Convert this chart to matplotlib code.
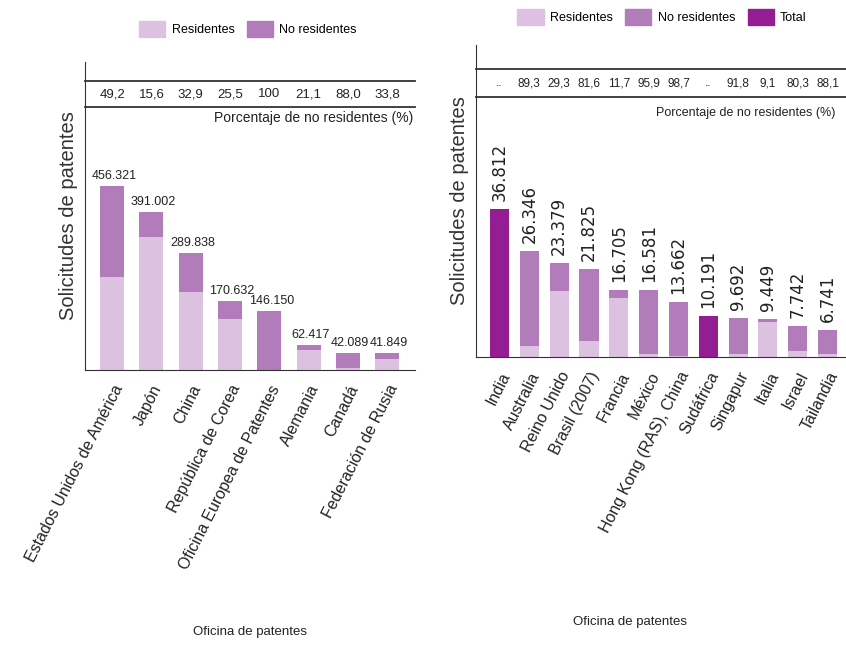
import numpy as np
import matplotlib
matplotlib.use('Agg')
import matplotlib.pyplot as plt
from matplotlib.patches import Patch

plt.rcParams['font.family'] = ['Liberation Sans', 'DejaVu Sans']

# Left chart: top 8 offices
left_offices = ['Estados Unidos de América', 'Japón', 'China', 'República de Corea',
                'Oficina Europea de Patentes', 'Alemania', 'Canadá', 'Federación de Rusia']
left_total = [456321, 391002, 289838, 170632, 146150, 62417, 42089, 41849]
left_resid = [231800, 330000, 194500, 127100, 0, 49200, 5050, 27700]
left_pct = ['49,2', '15,6', '32,9', '25,5', '100', '21,1', '88,0', '33,8']
left_labels = ['456.321', '391.002', '289.838', '170.632', '146.150', '62.417', '42.089', '41.849']

# Right chart: other offices
right_offices = ['India', 'Australia', 'Reino Unido', 'Brasil (2007)', 'Francia', 'México',
                 'Hong Kong (RAS), China', 'Sudáfrica', 'Singapur', 'Italia', 'Israel', 'Tailandia']
right_total = [36812, 26346, 23379, 21825, 16705, 16581, 13662, 10191, 9692, 9449, 7742, 6741]
right_resid = [0, 2820, 16530, 4020, 14750, 680, 180, 0, 800, 8590, 1520, 800]
right_only_total = [True, False, False, False, False, False, False, True, False, False, False, False]
right_pct = ['..', '89,3', '29,3', '81,6', '11,7', '95,9', '98,7', '..', '91,8', '9,1', '80,3', '88,1']
right_labels = ['36.812', '26.346', '23.379', '21.825', '16.705', '16.581', '13.662', '10.191',
                '9.692', '9.449', '7.742', '6.741']

c_res = '#dcc2e0'
c_non = '#b27cba'
c_tot = '#951d94'
c_txt = '#222222'

W, H = 846, 649
fig = plt.figure(figsize=(W / 100, H / 100), dpi=100)


def box(x0, y0, x1, y1):
    return [x0 / W, 1 - y1 / H, (x1 - x0) / W, (y1 - y0) / H]


def style(ax):
    for s in ['top', 'right']:
        ax.spines[s].set_visible(False)
    ax.spines['left'].set_color('#333333')
    ax.spines['bottom'].set_color('#333333')
    ax.set_yticks([])
    ax.tick_params(axis='x', length=0, pad=9, labelcolor=c_txt)


# ---- left
ax1 = fig.add_axes(box(85, 62, 415, 370))
x1 = np.arange(len(left_offices))
non1 = [t - r for t, r in zip(left_total, left_resid)]
ax1.bar(x1, left_resid, width=0.61, color=c_res)
ax1.bar(x1, non1, bottom=left_resid, width=0.61, color=c_non)
ax1.set_xlim(-0.69, 7.71)
ax1.set_ylim(0, 764000)
for xi, t, lab in zip(x1, left_total, left_labels):
    ax1.text(xi + 0.05, t + 10000, lab, ha='center', va='bottom', fontsize=9, color=c_txt)
style(ax1)
ax1.set_xticks(x1)
ax1.set_xticklabels(left_offices, rotation=63, ha='right', rotation_mode='anchor', fontsize=11.5)
for yy in [0.938, 0.854]:
    ax1.plot([0, 1], [yy, yy], color='#333333', lw=1.3, transform=ax1.transAxes, clip_on=False)
for xi, p in zip(x1, left_pct):
    ax1.text(xi, 0.896, p, transform=ax1.get_xaxis_transform(), ha='center', va='center',
             fontsize=9.5, color=c_txt)
ax1.text(0.995, 0.818, 'Porcentaje de no residentes (%)', transform=ax1.transAxes,
         ha='right', va='center', fontsize=10, color=c_txt)
ax1.set_ylabel('Solicitudes de patentes', fontsize=14.5, labelpad=5, color='#333333')
fig.text(250 / W, 1 - 632 / H, 'Oficina de patentes', ha='center', va='center', fontsize=9.5, color=c_txt)
fig.legend(handles=[Patch(color=c_res, label='Residentes'), Patch(color=c_non, label='No residentes')],
           loc='center', bbox_to_anchor=(248 / W, 1 - 29 / H), ncol=2, frameon=False,
           fontsize=9, handlelength=2.1, handleheight=1.5, columnspacing=1.0, handletextpad=0.5)

# ---- right
ax2 = fig.add_axes(box(476, 45, 846, 357))
x2 = np.arange(len(right_offices))
for xi, t, r, tot in zip(x2, right_total, right_resid, right_only_total):
    if tot:
        ax2.bar(xi, t, width=0.64, color=c_tot)
    else:
        ax2.bar(xi, r, width=0.64, color=c_res)
        ax2.bar(xi, t - r, bottom=r, width=0.64, color=c_non)
ax2.set_xlim(-0.79, 11.62)
ax2.set_ylim(0, 77600)
for xi, t, lab in zip(x2, right_total, right_labels):
    ax2.text(xi, t + 2000, lab, ha='center', va='bottom', rotation=90, fontsize=12,
             family=['DejaVu Sans'], color=c_txt)
style(ax2)
ax2.set_xticks(x2)
ax2.set_xticklabels(right_offices, rotation=63, ha='right', rotation_mode='anchor', fontsize=11.5)
for yy in [0.923, 0.833]:
    ax2.plot([0, 1], [yy, yy], color='#333333', lw=1.3, transform=ax2.transAxes, clip_on=False)
for xi, p in zip(x2, right_pct):
    ax2.text(xi, 0.878, p, transform=ax2.get_xaxis_transform(), ha='center', va='center',
             fontsize=8.5, color=c_txt)
ax2.text(0.97, 0.782, 'Porcentaje de no residentes (%)', transform=ax2.transAxes,
         ha='right', va='center', fontsize=9, color=c_txt)
ax2.set_ylabel('Solicitudes de patentes', fontsize=14.5, labelpad=5, color='#333333')
fig.text(630 / W, 1 - 622 / H, 'Oficina de patentes', ha='center', va='center', fontsize=9.5, color=c_txt)
fig.legend(handles=[Patch(color=c_res, label='Residentes'), Patch(color=c_non, label='No residentes'),
                    Patch(color=c_tot, label='Total')],
           loc='center', bbox_to_anchor=(662 / W, 1 - 17 / H), ncol=3, frameon=False,
           fontsize=9, handlelength=2.1, handleheight=1.5, columnspacing=1.0, handletextpad=0.5)

fig.savefig('out.png', dpi=100)
